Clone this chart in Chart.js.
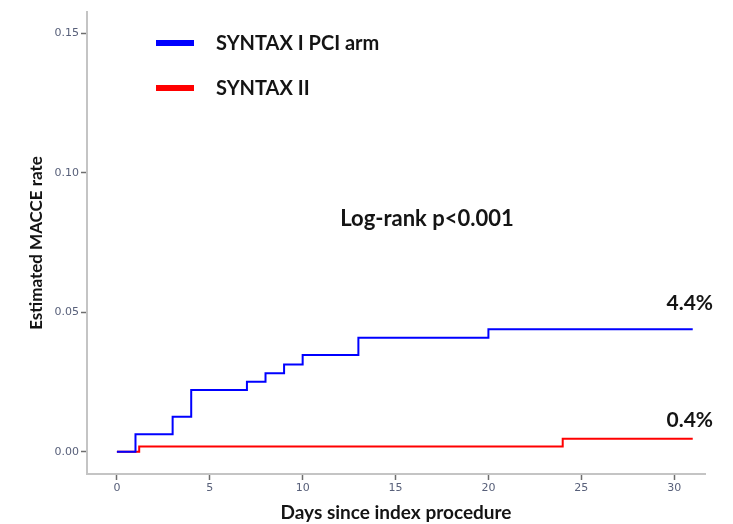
<!DOCTYPE html>
<html lang="en">
<head>
<meta charset="UTF-8" />
<title>Estimated MACCE rate</title>
<script src="https://cdn.jsdelivr.net/npm/chart.js"></script>
<style>
  html, body { margin: 0; padding: 0; background: #fff; }
  #wrap { width: 733px; height: 524px; }
</style>
</head>
<body>
<div id="wrap"><canvas id="kmChart" width="733" height="524"></canvas></div>
<script>
  // Kaplan-Meier steps (day, cumulative MACCE rate)
  const syntax1Days = [0, 1, 3, 4, 7, 8, 9, 10, 13, 20, 31];
  const syntax1Rate = [0, 0.0063, 0.0125, 0.0221, 0.0251, 0.0281, 0.0313, 0.0347, 0.0409, 0.0439, 0.0439];
  const syntax2Days = [0, 1.2, 24, 31];
  const syntax2Rate = [0, 0.0019, 0.0046, 0.0046];
  const seriesLabels = ['SYNTAX I PCI arm', 'SYNTAX II'];
  const endLabels = ['4.4%', '0.4%'];
  const xTicks = [0, 5, 10, 15, 20, 25, 30];
  const yTicks = [0, 0.05, 0.10, 0.15];
  const pValueText = 'Log-rank p<0.001';

  const toPoints = (xs, ys) => xs.map((d, i) => ({ x: d, y: ys[i] }));
  const labelFont = 'Lato, "Open Sans", sans-serif';

  // legend + annotations drawn on top of the plot
  const overlay = {
    id: 'overlay',
    afterDatasetsDraw(chart) {
      const { ctx, scales: { x, y } } = chart;
      ctx.save();
      chart.data.datasets.forEach((ds, i) => {
        const ly = 43 + i * 45;
        ctx.strokeStyle = ds.borderColor;
        ctx.lineWidth = 6;
        ctx.beginPath();
        ctx.moveTo(156, ly);
        ctx.lineTo(194, ly);
        ctx.stroke();
        ctx.fillStyle = '#141414';
        ctx.font = 'bold 20px ' + labelFont;
        ctx.textAlign = 'left';
        ctx.textBaseline = 'middle';
        ctx.fillText(ds.label, 216, ly + 1);

        // percentage at the end of each curve
        const pts = ds.data;
        const last = pts[pts.length - 1];
        ctx.font = 'bold 21px ' + labelFont;
        ctx.textAlign = 'center';
        ctx.textBaseline = 'alphabetic';
        ctx.fillText(endLabels[i], x.getPixelForValue(last.x) - 3, y.getPixelForValue(last.y) - (i === 0 ? 19 : 12));
      });
      ctx.font = 'bold 22px ' + labelFont;
      ctx.textAlign = 'center';
      ctx.fillText(pValueText, 427, 226);
      ctx.restore();
    }
  };

  new Chart(document.getElementById('kmChart'), {
    type: 'line',
    data: {
      datasets: [
        {
          label: seriesLabels[0],
          data: toPoints(syntax1Days, syntax1Rate),
          borderColor: '#0000ff',
          borderWidth: 2,
          stepped: true,
          pointRadius: 0,
          fill: false
        },
        {
          label: seriesLabels[1],
          data: toPoints(syntax2Days, syntax2Rate),
          borderColor: '#ff0000',
          borderWidth: 2,
          stepped: true,
          pointRadius: 0,
          fill: false
        }
      ]
    },
    options: {
      responsive: false,
      animation: false,
      layout: { padding: { left: 0, top: 12, right: 28, bottom: 0 } },
      plugins: {
        legend: { display: false },
        tooltip: { enabled: false }
      },
      scales: {
        x: {
          type: 'linear',
          min: -1.61,
          max: 31.66,
          afterBuildTicks: s => { s.ticks = xTicks.map(v => ({ value: v })); },
          afterFit: s => { s.height = 50; },
          grid: { drawOnChartArea: false, tickLength: 6, tickColor: '#6e6e6e', tickWidth: 1.5 },
          border: { color: '#c4c4c4', width: 2 },
          ticks: { color: '#58607a', font: { size: 11, family: '"DejaVu Sans", sans-serif' }, padding: 2, maxRotation: 0 },
          title: {
            display: true,
            text: 'Days since index procedure',
            color: '#141414',
            font: { size: 19, weight: 'bold', family: labelFont },
            padding: { top: 0, bottom: 0 }
          }
        },
        y: {
          type: 'linear',
          min: -0.008,
          max: 0.1577,
          afterBuildTicks: s => { s.ticks = yTicks.map(v => ({ value: v })); },
          afterFit: s => { s.width = 87; },
          grid: { drawOnChartArea: false, tickLength: 6, tickColor: '#6e6e6e', tickWidth: 1.5 },
          border: { color: '#c4c4c4', width: 2 },
          ticks: {
            color: '#58607a',
            font: { size: 11, family: '"DejaVu Sans", sans-serif' },
            padding: 2,
            callback: v => v.toFixed(2)
          },
          title: {
            display: true,
            text: 'Estimated MACCE rate',
            color: '#141414',
            font: { size: 17, weight: 'bold', family: labelFont },
            padding: { top: 26, bottom: 4 }
          }
        }
      }
    },
    plugins: [overlay]
  });
</script>
</body>
</html>
